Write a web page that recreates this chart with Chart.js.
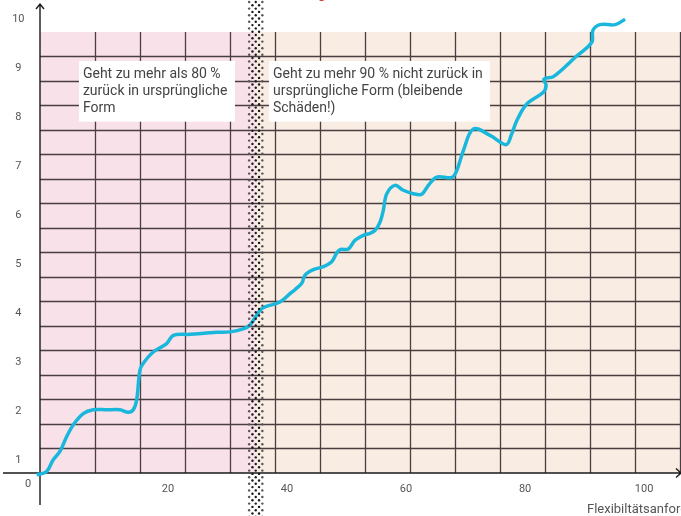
<!DOCTYPE html>
<html>
<head>
<meta charset="utf-8">
<script src="https://cdn.jsdelivr.net/npm/chart.js@4"></script>
<style>
    html, body { margin: 0; padding: 0; background: #fff; }
    #wrap { width: 681px; height: 516px; position: relative; }
</style>
</head>
<body>
<div id="wrap"><canvas id="chart"></canvas></div>
<script>
// Tick labels
const xTicks = [20, 40, 60, 80, 100];
const yTicks = [1, 2, 3, 4, 5, 6, 7, 8, 9, 10];

// Curve
const curveX = [-2.07, -0.39, 0.72, 1.85, 2.97, 4.08, 5.76, 7.45, 9.70, 11.93, 13.33, 14.17, 14.74, 15.29, 15.85,
    17.53, 19.78, 20.89, 23.70, 28.18, 30.42, 32.66, 33.78, 35.46, 36.30, 38.82, 40.50, 42.47, 43.03, 44.42,
    46.10, 47.51, 48.35, 48.91, 50.30, 51.43, 52.82, 53.95, 54.79, 55.63, 56.18, 56.76, 58.15, 59.55, 61.23,
    62.64, 63.75, 65.16, 67.68, 68.52, 69.63, 71.31, 74.12, 76.81, 77.76, 78.60, 80.29, 83.08, 83.53, 83.19,
    84.76, 88.40, 91.21, 91.38, 92.61, 95.13, 96.81];
const curveY = [0.71, 0.78, 1.02, 1.19, 1.49, 1.73, 1.96, 2.04, 2.04, 2.04, 1.99, 2.04, 2.24, 2.85, 2.99,
    3.22, 3.39, 3.56, 3.58, 3.62, 3.63, 3.69, 3.77, 4.07, 4.14, 4.24, 4.41, 4.62, 4.79, 4.90,
    4.96, 5.06, 5.24, 5.31, 5.32, 5.50, 5.60, 5.64, 5.70, 5.87, 6.11, 6.45, 6.62, 6.52, 6.45,
    6.44, 6.62, 6.79, 6.78, 6.92, 7.33, 7.77, 7.64, 7.45, 7.67, 7.94, 8.28, 8.52, 8.66, 8.79,
    8.84, 9.23, 9.54, 9.78, 9.90, 9.90, 10.01];

// Limit between the two zones (dotted line)
const limitX = 34.75;

// Notes
const notes = [
    { x1: 5.04, x2: 31.26, lines: ['Geht zu mehr als 80 %', 'zurück in ursprüngliche', 'Form'] },
    { x1: 36.97, x2: 74.1, lines: ['Geht zu mehr 90 % nicht zurück in', 'ursprüngliche Form (bleibende', 'Schäden!)'] }
];
const noteTop = 9.16, noteBottom = 7.92;

const FONT = 'Roboto, "Liberation Sans", sans-serif';

// Background zones, grid and axis lines
const paper = {
    id: 'paper',
    beforeDatasetsDraw(chart) {
        const { ctx, scales: { x, y } } = chart;
        const top = y.getPixelForValue(9.75);
        const bottom = y.getPixelForValue(0.75);
        const mid = x.getPixelForValue(limitX);
        ctx.save();
        ctx.fillStyle = '#f9e1ea';
        ctx.fillRect(x.left, top, mid - x.left, bottom - top);
        ctx.fillStyle = '#f9ece2';
        ctx.fillRect(mid, top, x.right - mid, bottom - top);

        // grid
        ctx.strokeStyle = '#4a3f40';
        ctx.lineWidth = 1.3;
        ctx.beginPath();
        for (let v = 1.25; v < 9.5; v += 0.5) {
            const py = Math.round(y.getPixelForValue(v)) + 0.5;
            ctx.moveTo(x.left, py);
            ctx.lineTo(x.right, py);
        }
        for (let v = 7.73; v <= x.max; v += 7.563) {
            const px = Math.round(x.getPixelForValue(v)) + 0.5;
            ctx.moveTo(px, top);
            ctx.lineTo(px, bottom);
        }
        ctx.stroke();

        // axes with arrows
        ctx.strokeStyle = '#1a1a1a';
        ctx.lineWidth = 1.4;
        ctx.beginPath();
        ctx.moveTo(3, bottom);
        ctx.lineTo(x.right, bottom);
        ctx.moveTo(x.right - 5, bottom - 4.5);
        ctx.lineTo(x.right, bottom);
        ctx.lineTo(x.right - 5, bottom + 4.5);
        ctx.moveTo(x.left, chart.height - 11);
        ctx.lineTo(x.left, 4);
        ctx.moveTo(x.left - 4, 9);
        ctx.lineTo(x.left, 4);
        ctx.lineTo(x.left + 4, 9);
        ctx.stroke();
        ctx.restore();
    },
    afterDatasetsDraw(chart) {
        const { ctx, scales: { x, y } } = chart;
        ctx.save();

        // dotted limit line
        const cx = x.getPixelForValue(limitX);
        for (let row = 0, py = 2; py <= chart.height + 2; row++, py += 3.3) {
            const offs = row % 2 ? [-3.3, 3.3] : [-6.6, 0, 6.6];
            offs.forEach(d => {
                ctx.fillStyle = Math.abs(d) > 5 ? '#555555' : '#1a1a1a';
                ctx.beginPath();
                ctx.arc(cx + d, py, 1.2, 0, Math.PI * 2);
                ctx.fill();
            });
        }

        // notes
        const ty = y.getPixelForValue(noteTop);
        const by = y.getPixelForValue(noteBottom);
        ctx.font = '14px ' + FONT;
        ctx.textBaseline = 'middle';
        ctx.textAlign = 'left';
        notes.forEach(n => {
            const lx = x.getPixelForValue(n.x1);
            const rx = x.getPixelForValue(n.x2);
            ctx.fillStyle = '#ffffff';
            ctx.fillRect(lx, ty, rx - lx, by - ty);
            ctx.fillStyle = '#444444';
            n.lines.forEach((t, i) => ctx.fillText(t, lx + 4, ty + 14 + i * 17));
        });

        // origin label, axis title, cut title
        ctx.font = '11px ' + FONT;
        ctx.fillStyle = '#555555';
        ctx.textAlign = 'center';
        ctx.fillText('0', x.left - 12, y.bottom + 11);
        ctx.font = '13px ' + FONT;
        ctx.textAlign = 'left';
        ctx.fillText('Flexibiltätsanforderung', x.getPixelForValue(90.4), chart.height - 6);
        ctx.font = '15px ' + FONT;
        ctx.fillStyle = '#d8322f';
        ctx.textAlign = 'right';
        ctx.textBaseline = 'alphabetic';
        ctx.fillText('Belastung', x.getPixelForValue(46.6), -2);
        ctx.restore();
    }
};

new Chart(document.getElementById('chart'), {
    type: 'line',
    data: {
        datasets: [{
            data: curveX.map((v, i) => ({ x: v, y: curveY[i] })),
            borderColor: '#1ab7dd',
            borderWidth: 3.5,
            pointRadius: 0,
            tension: 0.35,
            fill: false,
            clip: false
        }]
    },
    options: {
        responsive: true,
        maintainAspectRatio: false,
        animation: false,
        layout: { padding: { top: 12, left: 0, right: 0, bottom: 0 } },
        plugins: { legend: { display: false }, tooltip: { enabled: false } },
        scales: {
            x: {
                type: 'linear',
                min: -1.5,
                max: 106.2,
                afterBuildTicks: s => { s.ticks = xTicks.map(v => ({ value: v })); },
                afterFit: s => { s.height = 43; s.paddingLeft = 0; s.paddingRight = 0; },
                grid: { display: false, drawTicks: false },
                border: { display: false },
                ticks: { color: '#555', font: { family: FONT, size: 11 }, padding: 10, maxRotation: 0, autoSkip: false }
            },
            y: {
                type: 'linear',
                min: 0.75,
                max: 10.158,
                afterBuildTicks: s => { s.ticks = yTicks.map(v => ({ value: v })); },
                afterFit: s => { s.width = 40; s.paddingTop = 0; s.paddingBottom = 0; },
                grid: { display: false, drawTicks: false },
                border: { display: false },
                ticks: { color: '#555', font: { family: FONT, size: 11 }, padding: 15.5, crossAlign: 'center', autoSkip: false }
            }
        }
    },
    plugins: [paper]
});
</script>
</body>
</html>
